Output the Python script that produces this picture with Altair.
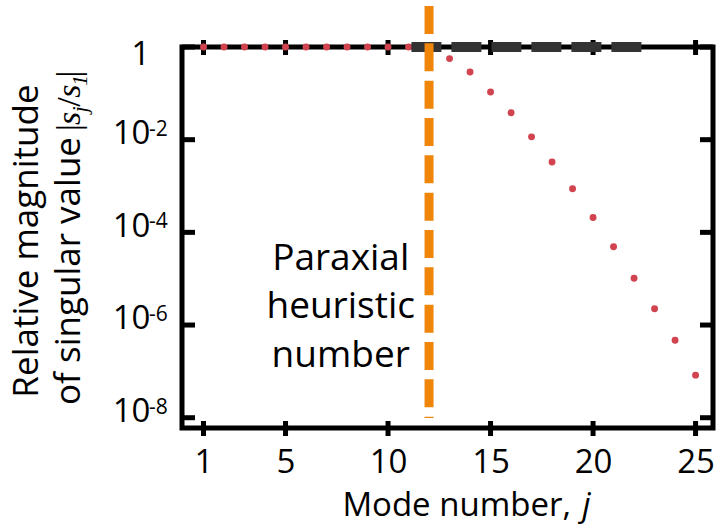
import altair as alt
import pandas as pd

# ---------------- data ----------------
modes = list(range(1, 26))
magnitudes = [1, 1, 1, 1, 1, 1, 1, 1, 1, 1, 1, 0.9,
              0.562, 0.288, 0.107, 0.038, 0.0115, 0.00331,
              8.7e-4, 2.09e-4, 4.9e-5, 1.02e-5, 2.24e-6, 4.68e-7, 8.3e-8]
x_ticks = [1, 5, 10, 15, 20, 25]
y_ticks = [1, 1e-2, 1e-4, 1e-6, 1e-8]
y_exps = ["", "-2", "-4", "-6", "-8"]
heuristic_j = [12]
bound_x = [11.14, 22.36]
bound_y = [1, 1]

W, H = 531, 381
FONT = "Open Sans"
MATH = "Liberation Serif"
RED = "#d1434f"
ORANGE = "#f0850c"

x_scale = alt.Scale(domain=[-0.05, 25.85], nice=False, zero=False)
y_scale = alt.Scale(type="log", domain=[6e-9, 1], nice=False)

x_axis = alt.Axis(values=x_ticks, title=None, grid=False, domain=False, ticks=False,
                  tickSize=0, labelFont=FONT, labelFontSize=33, labelColor="black",
                  labelBaseline="alphabetic", labelPadding=44, labelFlush=False,
                  labelOverlap=False)
y_axis = alt.Axis(labels=False, ticks=False, domain=False, grid=False, title=None, tickSize=0)


def X(f="j"):
    return alt.X(f"{f}:Q", scale=x_scale, axis=x_axis)


def Y(f="m"):
    return alt.Y(f"{f}:Q", scale=y_scale, axis=y_axis)


pts = pd.DataFrame({"j": modes, "m": magnitudes})
xt = pd.DataFrame({"j": x_ticks})
yt = pd.DataFrame({"m": y_ticks, "e": y_exps})
one = pd.DataFrame({"x": [0]})

layers = []

# x ticks crossing bottom and top frame
layers.append(alt.Chart(xt).mark_rule(color="black", strokeWidth=5).encode(
    x=X(), y=alt.value(H - 7), y2=alt.value(H + 8)))
layers.append(alt.Chart(xt).mark_rule(color="black", strokeWidth=5).encode(
    x=X(), y=alt.value(-7), y2=alt.value(8)))
# y ticks inward, left and right
layers.append(alt.Chart(yt).mark_rule(color="black", strokeWidth=5).encode(
    y=Y(), x=alt.value(0), x2=alt.value(13)))
layers.append(alt.Chart(yt).mark_rule(color="black", strokeWidth=5).encode(
    y=Y(), x=alt.value(W - 13), x2=alt.value(W)))

# points
layers.append(alt.Chart(pts).mark_circle(size=48, color=RED, opacity=1).encode(x=X(), y=Y()))

# black dashed bound line
layers.append(alt.Chart(pd.DataFrame({"j": bound_x, "m": bound_y})).mark_line(
    color="#333333", strokeWidth=10, strokeDash=[30, 10], strokeCap="butt").encode(x=X(), y=Y()))

# orange heuristic line
layers.append(alt.Chart(pd.DataFrame({"j": heuristic_j})).mark_rule(
    color=ORANGE, strokeWidth=9, strokeDash=[28, 9.33], strokeCap="butt").encode(
    x=X(), y=alt.value(-41), y2=alt.value(371)))

# y tick labels
layers.append(alt.Chart(yt).transform_filter("datum.m < 0.5").mark_text(
    text="10", font=FONT, fontSize=33, align="right", baseline="alphabetic", dy=4.4,
    color="black").encode(y=Y(), x=alt.value(-31.5)))
layers.append(alt.Chart(yt).transform_filter("datum.m < 0.5").mark_text(
    font=FONT, fontSize=21, align="left", baseline="alphabetic", dy=-4,
    color="black").encode(y=Y(), x=alt.value(-33), text="e:N"))
layers.append(alt.Chart(yt).transform_filter("datum.m > 0.5").mark_text(
    text="1", font=FONT, fontSize=33, align="center", baseline="alphabetic", dy=18.3,
    color="black").encode(y=Y(), x=alt.value(-41.3)))

# annotation
layers.append(alt.Chart(one).mark_text(
    text=["Paraxial", "heuristic", "number"], font=FONT, fontSize=37, lineHeight=48.3,
    align="center", baseline="alphabetic", color="black").encode(
    x=alt.value(158.7), y=alt.value(223)))

# x title
layers.append(alt.Chart(one).mark_text(
    text="Mode number,", font=FONT, fontSize=33, align="right", baseline="alphabetic",
    color="black").encode(x=alt.value(389), y=alt.value(H + 88)))
layers.append(alt.Chart(one).mark_text(
    text="j", font=FONT, fontSize=33, fontStyle="italic", align="center",
    baseline="alphabetic", color="black").encode(x=alt.value(404.4), y=alt.value(H + 88)))

# y title line 1
layers.append(alt.Chart(one).mark_text(
    text="Relative magnitude", font=FONT, fontSize=35, angle=270, align="center",
    baseline="alphabetic", color="black").encode(x=alt.value(-144.3), y=alt.value(194)))
# y title line 2
BX = -102.3
layers.append(alt.Chart(one).mark_text(
    text="of singular value", font=FONT, fontSize=35, angle=270, align="right",
    baseline="alphabetic", color="black").encode(x=alt.value(BX), y=alt.value(90)))
pieces = [
    ("|", 34, "normal", 80.5, 0),
    ("s", 34, "italic", 71.5, 0),
    ("j", 22, "italic", 62.4, 7),
    ("/", 34, "normal", 55.0, 0),
    ("s", 34, "italic", 44.2, 0),
    ("1", 22, "italic", 33.6, 7),
    ("|", 34, "normal", 27.0, 0),
]
for t, fs, st, yy, off in pieces:
    layers.append(alt.Chart(one).mark_text(
        text=t, font=MATH, fontSize=fs, fontStyle=st, angle=270, align="center",
        baseline="alphabetic", color="black").encode(x=alt.value(BX + off), y=alt.value(yy)))

chart = alt.layer(*layers).properties(
    width=W, height=H,
    autosize=alt.AutoSizeParams(type="none"),
    padding={"left": 182, "top": 47, "right": 4, "bottom": 97},
    background="white",
).configure_view(stroke="black", strokeWidth=5)

chart.save("out.html", embed_options={"renderer": "svg", "actions": False})
